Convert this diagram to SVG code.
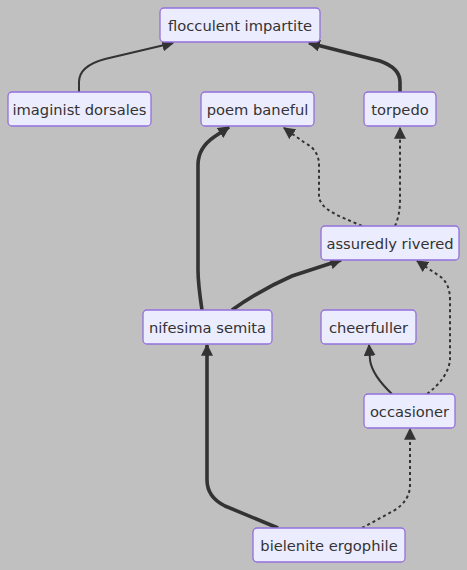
<svg xmlns="http://www.w3.org/2000/svg" width="467" height="570" viewBox="0 0 467 570">
<style>
.node rect{fill:#ECECFF;stroke:#9370DB;stroke-width:1.3}
.node text{font-family:"DejaVu Sans",sans-serif;font-size:14.7px;fill:#333;text-anchor:middle;dominant-baseline:central}
.e{fill:none;stroke:#333;marker-end:url(#arr)}
.n{stroke-width:2}
.t{stroke-width:3.6}
.d{stroke-width:2;stroke-dasharray:3 3}
</style>
<defs>
<marker id="arr" viewBox="0 0 10 10" refX="9" refY="5" markerWidth="12" markerHeight="12" markerUnits="userSpaceOnUse" orient="auto">
<path d="M0,0 L10,5 L0,10 z" fill="#333"/>
</marker>
</defs>
<rect width="467" height="570" fill="#c0c0c0"/>
<g id="edges">
<path class="e n" d="M79,92 V82 Q79,66 105,59 L173,43"/>
<path class="e t" d="M400,92 V82 Q400,68 380,61 L309,43"/>
<path class="e t" d="M202,310 C199,290 198,280 198,270 V165 Q198,148 214,137 L229,127"/>
<path class="e d" d="M362,226 C340,216 319,210 319,195 V165 Q319,150 305,143 L284,128"/>
<path class="e d" d="M395,226 Q400,215 400,200 V128"/>
<path class="e t" d="M232,310 Q260,290 292,276 L341,260"/>
<path class="e d" d="M427,394 Q448,378 450,360 V300 Q450,282 438,275 L417,261"/>
<path class="e n" d="M392,394 Q372,375 370,360 L369,345"/>
<path class="e t" d="M278,528 L225,506 Q207,497 207,480 V345"/>
<path class="e d" d="M362,528 L395,510 Q410,500 410,485 V429"/>
</g>
<g id="flocculent" class="node"><rect x="160" y="8" width="160" height="34" rx="4"/><text x="240" y="25">flocculent impartite</text></g>
<g id="imaginist" class="node"><rect x="8" y="92" width="143" height="34" rx="4"/><text x="79.5" y="109">imaginist dorsales</text></g>
<g id="poem" class="node"><rect x="201" y="92" width="113" height="34" rx="4"/><text x="257.5" y="109">poem baneful</text></g>
<g id="torpedo" class="node"><rect x="364" y="92" width="72" height="34" rx="4"/><text x="400" y="109">torpedo</text></g>
<g id="assuredly" class="node"><rect x="321" y="226" width="138" height="34" rx="4"/><text x="390" y="243">assuredly rivered</text></g>
<g id="nifesima" class="node"><rect x="143" y="310" width="129" height="34" rx="4"/><text x="207.5" y="327">nifesima semita</text></g>
<g id="cheerfuller" class="node"><rect x="321" y="310" width="95" height="34" rx="4"/><text x="368.5" y="327">cheerfuller</text></g>
<g id="occasioner" class="node"><rect x="364" y="394" width="91" height="34" rx="4"/><text x="409.5" y="411">occasioner</text></g>
<g id="bielenite" class="node"><rect x="253" y="528" width="152" height="34" rx="4"/><text x="329" y="545">bielenite ergophile</text></g>
</svg>
